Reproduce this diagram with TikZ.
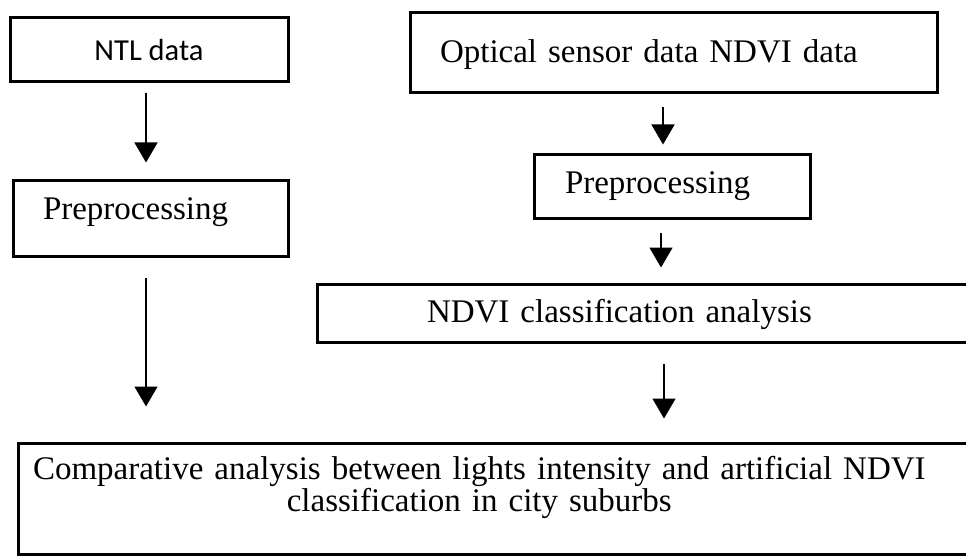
\documentclass[tikz,border=0pt]{standalone}
\usepackage{fontspec}
\setmainfont{Liberation Serif}
\newfontfamily\ntlfont{Carlito}
\usetikzlibrary{arrows.meta}

\begin{document}
\begin{tikzpicture}[x=1pt, y=-1pt, main/.style = {draw, line width=3pt, inner ysep=0pt, font=\fontsize{33pt}{30pt}\selectfont}, arr/.style = {line width=1.5pt, -{Triangle[width=23pt,length=20pt]}}] 
			\useasboundingbox (0,0) rectangle (966,556);
			\clip (0,0) rectangle (966,556);
			\node[main, minimum width=278pt, minimum height=64pt, font=\ntlfont\fontsize{30.5pt}{36pt}\selectfont] (1) at (149,50) {NTL data}; 
			\node[main, minimum height=80pt, inner xsep=30pt, text width=467pt, align=left, text depth=3pt] (2) at (673.5,53) {Optical sensor data NDVI data};
			\node[main, minimum height=75pt, inner xsep=30pt, text width=215pt, align=left, text depth=20pt] (3) at (150.5,218.5) {Preprocessing};
			\node[main, minimum height=63pt, inner xsep=31pt, text width=214pt, align=left] (4) at (672,186.5) {Preprocessing};
			\node[main, minimum height=58pt, inner xsep=110pt, text width=433pt, align=left, text depth=5pt] (5) at (643.5,313) {NDVI classification analysis};
			\node[main, minimum height=111pt, inner xsep=15pt, text width=922pt, align=left, text height=23pt, text depth=62pt] (6) at (494,498.5) {\begin{tabular}[t]{@{}c@{}}Comparative analysis between lights intensity and artificial NDVI\\classification in city suburbs\end{tabular}};
			\draw[arr, shorten <=10pt, shorten >=17pt] ([xshift=-3pt]1.south) -- ([xshift=-4.5pt]3.north);
			\draw[arr, shorten <=20pt, shorten >=35pt] ([xshift=-4.5pt]3.south) -- ([xshift=-348pt]6.north);
			\draw[arr, shorten <=13pt, shorten >=9pt] ([xshift=-10.5pt]2.south) -- ([xshift=-9pt]4.north);
			\draw[arr, shorten <=13pt, shorten >=15pt] ([xshift=-11pt]4.south) -- ([xshift=17.5pt]5.north);
			\draw[arr, shorten <=20pt, shorten >=23pt] ([xshift=20.5pt]5.south) -- ([xshift=170pt]6.north);
		\end{tikzpicture}
\end{document}
